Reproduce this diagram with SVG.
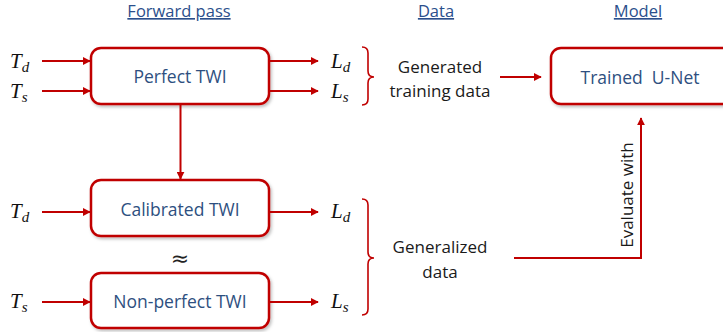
<svg xmlns="http://www.w3.org/2000/svg" width="723" height="332" viewBox="0 0 723 332">
<style>
.box{fill:#fff;stroke:#C00000;stroke-width:2.5}
.ln{fill:none;stroke:#C00000;stroke-width:2}
.br{fill:none;stroke:#C00000;stroke-width:1.6}
.hd{font-family:"Open Sans","Liberation Sans",sans-serif;font-size:16.5px;fill:#2B4F8C;text-anchor:middle;text-decoration:underline}
.bt{font-family:"Open Sans","Liberation Sans",sans-serif;font-size:17.5px;fill:#2E4F80;text-anchor:middle;dominant-baseline:central}
.dt{font-family:"Open Sans","Liberation Sans",sans-serif;font-size:17px;fill:#1a1a1a;text-anchor:middle}
.mt{font-family:"Liberation Serif",serif;font-style:italic;font-size:21px;fill:#111}
.sb{font-size:15px}
</style>
<defs>
<marker id="ah" viewBox="0 0 10 10" refX="9" refY="5" markerWidth="4" markerHeight="4" orient="auto" markerUnits="strokeWidth">
<path d="M0,0 L10,5 L0,10 z" fill="#C00000"/>
</marker>
<filter id="sh" x="-10%" y="-10%" width="130%" height="140%">
<feDropShadow dx="1.5" dy="2" stdDeviation="1.5" flood-color="#000" flood-opacity="0.25"/>
</filter>
</defs>
<g id="headers">
<text class="hd" x="179" y="17">Forward pass</text>
<text class="hd" x="436" y="17">Data</text>
<text class="hd" x="638" y="17">Model</text>
</g>
<g id="perfect">
<rect class="box" x="91" y="48" width="178" height="56" rx="10" filter="url(#sh)"/>
<text class="bt" x="180" y="76">Perfect TWI</text>
</g>
<g id="calibrated">
<rect class="box" x="91" y="180" width="178" height="56" rx="10" filter="url(#sh)"/>
<text class="bt" x="180" y="209">Calibrated TWI</text>
</g>
<g id="nonperfect">
<rect class="box" x="91" y="273" width="178" height="55" rx="10" filter="url(#sh)"/>
<text class="bt" x="180" y="301">Non-perfect TWI</text>
</g>
<g id="unet">
<rect class="box" x="551" y="48" width="185" height="56" rx="10" filter="url(#sh)"/>
<text class="bt" x="640" y="77">Trained&#160; U-Net</text>
</g>
<g id="labels">
<text class="mt" x="10" y="68">T<tspan class="sb" dy="4">d</tspan></text>
<text class="mt" x="10" y="98">T<tspan class="sb" dy="4">s</tspan></text>
<text class="mt" x="331" y="68">L<tspan class="sb" dy="4">d</tspan></text>
<text class="mt" x="331" y="98">L<tspan class="sb" dy="4">s</tspan></text>
<text class="mt" x="10" y="218">T<tspan class="sb" dy="4">d</tspan></text>
<text class="mt" x="331" y="218">L<tspan class="sb" dy="4">d</tspan></text>
<text class="mt" x="10" y="308">T<tspan class="sb" dy="4">s</tspan></text>
<text class="mt" x="331" y="308">L<tspan class="sb" dy="4">s</tspan></text>
<text x="180" y="266" font-family="DejaVu Sans,sans-serif" font-size="22" fill="#222" text-anchor="middle">≈</text>
</g>
<g id="data">
<text class="dt" x="440" y="73">Generated</text>
<text class="dt" x="440" y="97">training data</text>
<text class="dt" x="440" y="253">Generalized</text>
<text class="dt" x="440" y="278">data</text>
<text class="dt" x="0" y="0" transform="translate(633,195) rotate(-90)">Evaluate with</text>
</g>
<g id="connectors">
<line class="ln" x1="42" y1="61" x2="90" y2="61" marker-end="url(#ah)"/>
<line class="ln" x1="42" y1="91" x2="90" y2="91" marker-end="url(#ah)"/>
<line class="ln" x1="270" y1="61" x2="318" y2="61" marker-end="url(#ah)"/>
<line class="ln" x1="270" y1="91" x2="318" y2="91" marker-end="url(#ah)"/>
<line class="ln" x1="180.5" y1="105" x2="180.5" y2="179" marker-end="url(#ah)"/>
<line class="ln" x1="42" y1="212" x2="90" y2="212" marker-end="url(#ah)"/>
<line class="ln" x1="270" y1="212" x2="318" y2="212" marker-end="url(#ah)"/>
<line class="ln" x1="42" y1="302" x2="90" y2="302" marker-end="url(#ah)"/>
<line class="ln" x1="270" y1="302" x2="318" y2="302" marker-end="url(#ah)"/>
<line class="ln" x1="500" y1="77" x2="541" y2="77" marker-end="url(#ah)"/>
<polyline class="ln" points="514,258 641,258 641,118" marker-end="url(#ah)"/>
<path class="br" d="M362,47 Q368,47 368,53 L368,71 Q368,77 374,77 Q368,77 368,83 L368,99 Q368,105 362,105"/>
<path class="br" d="M362,199 Q368,199 368,205 L368,252 Q368,258 374,258 Q368,258 368,264 L368,309 Q368,315 362,315"/>
</g>
</svg>
